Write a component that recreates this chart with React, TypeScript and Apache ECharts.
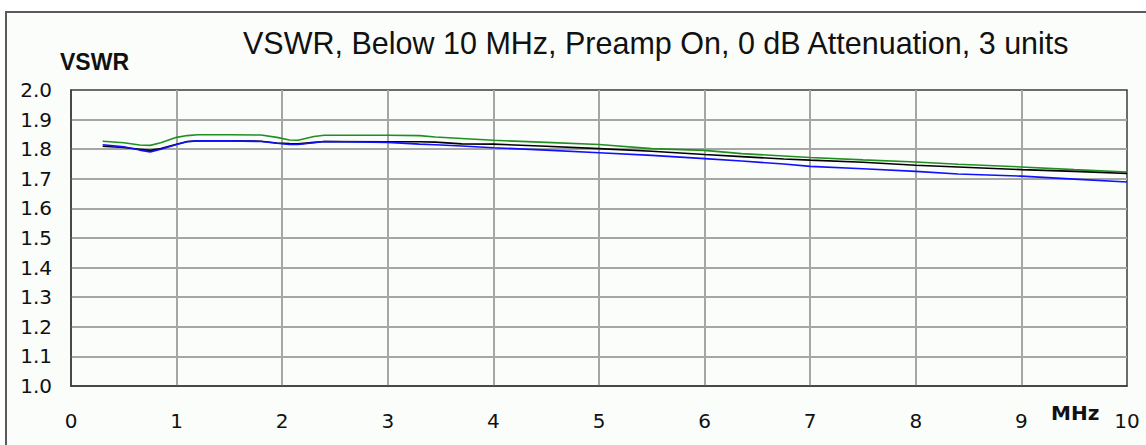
import React, { useEffect, useRef } from "react";
import * as echarts from "echarts";

const TITLE = "VSWR, Below 10 MHz, Preamp On, 0 dB Attenuation, 3 units";
const Y_NAME = "VSWR";
const X_NAME = "MHz";

const freqMHz = [0.3, 0.5, 0.65, 0.75, 0.85, 1.0, 1.1, 1.2, 1.5, 1.8, 1.95, 2.07, 2.15, 2.3, 2.4, 3.0, 3.3, 3.45, 3.7, 4.0, 4.5, 5.0, 5.5, 6.0, 6.35, 6.75, 7.0, 7.5, 8.0, 8.4, 9.0, 9.5, 10.0];

const unitGreen = [1.827, 1.822, 1.814, 1.813, 1.822, 1.840, 1.846, 1.849, 1.849, 1.848, 1.840, 1.831, 1.830, 1.843, 1.847, 1.847, 1.846, 1.841, 1.836, 1.830, 1.823, 1.816, 1.802, 1.796, 1.785, 1.777, 1.772, 1.764, 1.757, 1.749, 1.740, 1.731, 1.723];
const unitBlack = [1.810, 1.806, 1.800, 1.796, 1.802, 1.817, 1.826, 1.828, 1.828, 1.827, 1.821, 1.819, 1.818, 1.823, 1.826, 1.825, 1.825, 1.824, 1.818, 1.817, 1.810, 1.802, 1.793, 1.782, 1.775, 1.767, 1.763, 1.756, 1.746, 1.740, 1.731, 1.725, 1.718];
const unitBlue = [1.815, 1.808, 1.797, 1.791, 1.800, 1.816, 1.825, 1.828, 1.828, 1.826, 1.820, 1.816, 1.816, 1.822, 1.826, 1.823, 1.817, 1.815, 1.811, 1.805, 1.797, 1.788, 1.779, 1.768, 1.760, 1.750, 1.742, 1.734, 1.725, 1.716, 1.709, 1.699, 1.689];

const xMin = 0;
const xMax = 10;
const xStep = 1;
const yMin = 1.0;
const yMax = 2.0;
const yStep = 0.1;

const pair = (vals: number[]) => freqMHz.map((f, i) => [f, vals[i]]);

export default function App() {
  const ref = useRef<HTMLDivElement>(null);
  useEffect(() => {
    if (!ref.current) return;
    const chart = echarts.init(ref.current, null, { renderer: "svg" });
    const gridCol = "#a6a6a6";
    const frameCol = "#3c3c3c";
    const labelFont = "'DejaVu Sans', sans-serif";
    chart.setOption({
      animation: false,
      backgroundColor: "#ffffff",
      grid: {
        left: 71,
        right: 19,
        top: 90,
        bottom: 59,
        show: true,
        borderColor: frameCol,
        borderWidth: 1.5,
        backgroundColor: "transparent",
      },
      xAxis: {
        type: "value",
        min: xMin,
        max: xMax,
        interval: xStep,
        axisLine: { show: true, lineStyle: { color: frameCol, width: 1.5 } },
        axisTick: { show: false },
        splitLine: { show: true, showMinLine: false, showMaxLine: false, lineStyle: { color: gridCol, width: 2 } },
        axisLabel: { color: "#111", fontSize: 20, fontFamily: labelFont, margin: 25 },
      },
      yAxis: {
        type: "value",
        min: yMin,
        max: yMax,
        interval: yStep,
        axisLine: { show: true, lineStyle: { color: frameCol, width: 1.5 } },
        axisTick: { show: false },
        splitLine: { show: true, showMinLine: false, showMaxLine: false, lineStyle: { color: gridCol, width: 2 } },
        axisLabel: {
          color: "#111",
          fontSize: 20,
          fontFamily: labelFont,
          margin: 19,
          formatter: (v: number) => v.toFixed(1),
        },
      },
      graphic: [
        {
          type: "rect",
          z: -1,
          silent: true,
          shape: { x: 6, y: 12, width: 1160, height: 460 },
          style: { fill: "#fbfdfb", stroke: "#5a5a5a", lineWidth: 2 },
        },
        {
          type: "text",
          x: 243,
          y: 43,
          style: {
            text: TITLE,
            font: "30.5px 'Liberation Sans', Arial, sans-serif",
            fill: "#111",
            textAlign: "left",
            textVerticalAlign: "middle",
          },
        },
        {
          type: "text",
          x: 60,
          y: 62,
          style: {
            text: Y_NAME,
            font: "bold 23px 'Liberation Sans', Arial, sans-serif",
            fill: "#111",
            textAlign: "left",
            textVerticalAlign: "middle",
          },
        },
        {
          type: "text",
          x: 1051,
          y: 413,
          style: {
            text: X_NAME,
            font: "bold 20px 'DejaVu Sans', sans-serif",
            fill: "#111",
            textAlign: "left",
            textVerticalAlign: "middle",
          },
        },
      ],
      series: [
        {
          name: "Unit 1",
          type: "line",
          data: pair(unitGreen),
          showSymbol: false,
          lineStyle: { color: "#1f901f", width: 1.6 },
          z: 3,
        },
        {
          name: "Unit 2",
          type: "line",
          data: pair(unitBlack),
          showSymbol: false,
          lineStyle: { color: "#000000", width: 1.6 },
          z: 4,
        },
        {
          name: "Unit 3",
          type: "line",
          data: pair(unitBlue),
          showSymbol: false,
          lineStyle: { color: "#1010ff", width: 1.6 },
          z: 5,
        },
      ],
    });
    return () => chart.dispose();
  }, []);
  return <div ref={ref} style={{ position: "fixed", left: 0, top: 0, width: 1146, height: 445 }} />;
}
